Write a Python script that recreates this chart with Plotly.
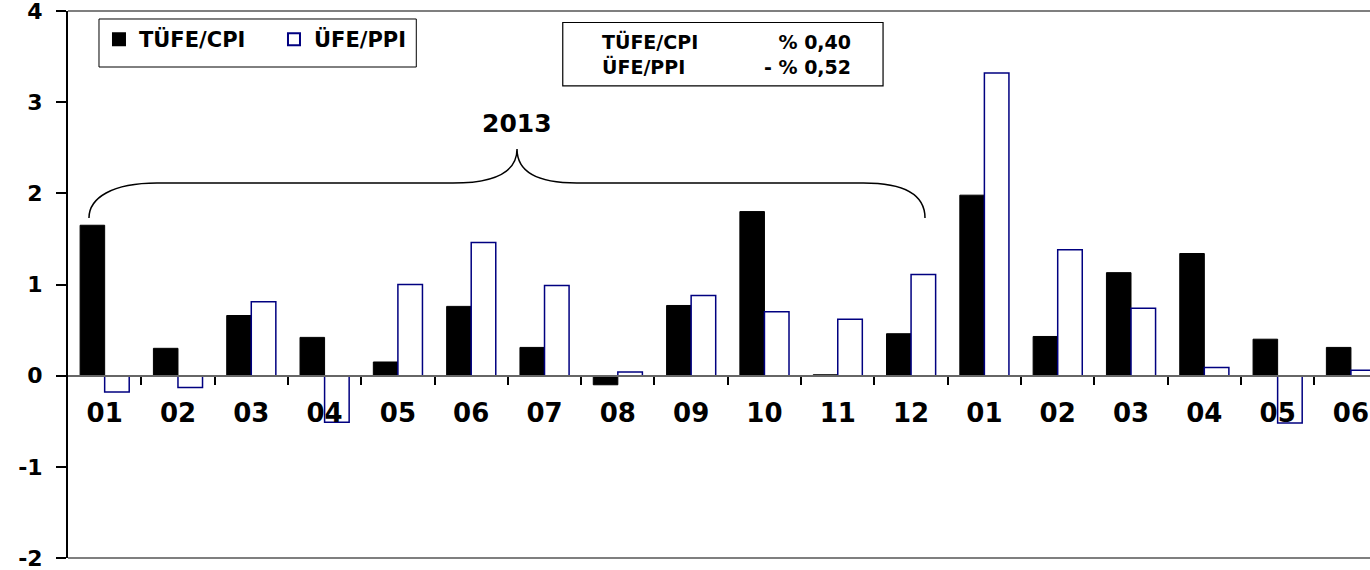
import plotly.graph_objects as go

# monthly % change, 2013-01 .. 2014-06
months = ["01", "02", "03", "04", "05", "06", "07", "08", "09", "10", "11", "12",
          "01", "02", "03", "04", "05", "06"]
cpi = [1.65, 0.30, 0.66, 0.42, 0.15, 0.76, 0.31, -0.10, 0.77, 1.80, 0.01, 0.46,
       1.98, 0.43, 1.13, 1.34, 0.40, 0.31]
ppi = [-0.18, -0.13, 0.81, -0.51, 1.00, 1.46, 0.99, 0.04, 0.88, 0.70, 0.62, 1.11,
       3.32, 1.38, 0.74, 0.09, -0.52, 0.06]
y_ticks = [-2, -1, 0, 1, 2, 3, 4]

FONT = "DejaVu Sans"
pos = list(range(len(months)))

fig = go.Figure()
fig.add_trace(go.Bar(
    x=pos, y=cpi, name="TÜFE/CPI",
    marker=dict(color="black", line=dict(color="black", width=1)),
))
fig.add_trace(go.Bar(
    x=pos, y=ppi, name="ÜFE/PPI",
    marker=dict(color="white", line=dict(color="#000080", width=1.5)),
))

# curly brace over 2013
brace = ("M -0.214,1.729 C -0.214,1.95 0.1,2.113 0.714,2.113 "
         "L 4.75,2.113 C 5.39,2.113 5.625,2.256 5.625,2.486 "
         "C 5.625,2.256 5.857,2.113 6.44,2.113 "
         "L 10.35,2.113 C 10.97,2.113 11.19,1.95 11.19,1.729")
fig.add_shape(type="path", path=brace, xref="x", yref="y",
              line=dict(color="black", width=1.5))

# frame lines top and bottom
for yy in (0, 1):
    fig.add_shape(type="line", xref="paper", yref="paper", x0=0, x1=1, y0=yy, y1=yy,
                  line=dict(color="#555555", width=1.5))

# legend box and summary box
fig.add_shape(type="rect", xref="paper", yref="paper",
              x0=0.0238, x1=0.2675, y0=0.8976, y1=0.9854,
              line=dict(color="black", width=1))
fig.add_shape(type="rect", xref="paper", yref="paper",
              x0=0.380, x1=0.626, y0=0.863, y1=0.979,
              line=dict(color="black", width=1.2))

fig.add_annotation(x=5.625, y=2.765, xref="x", yref="y", text="<b>2013</b>",
                   showarrow=False, font=dict(family=FONT, size=25, color="black"))
fig.add_annotation(x=0.4086, y=0.921, xref="paper", yref="paper",
                   xanchor="left", yanchor="middle", align="left", showarrow=False,
                   text="<b>TÜFE/CPI</b><br><b>ÜFE/PPI</b>",
                   font=dict(family=FONT, size=19, color="black"))
fig.add_annotation(x=0.603, y=0.921, xref="paper", yref="paper",
                   xanchor="right", yanchor="middle", align="right", showarrow=False,
                   text="<b>% 0,40</b><br><b>- % 0,52</b>",
                   font=dict(family=FONT, size=19, color="black"))

fig.update_layout(
    width=1370, height=570,
    margin=dict(l=68, r=0, t=11, b=12),
    paper_bgcolor="white", plot_bgcolor="white",
    barmode="group", bargap=0.33, bargroupgap=0,
    font=dict(family=FONT, color="black"),
    showlegend=True,
    legend=dict(
        orientation="h", x=0.0238, y=0.9854, xanchor="left", yanchor="top",
        bgcolor="rgba(0,0,0,0)", borderwidth=0,
        font=dict(family=FONT, size=21, color="black", weight="bold"),
        entrywidth=130, entrywidthmode="pixels", itemsizing="constant",
    ),
    xaxis=dict(
        range=[-0.5, 17.26], anchor="free", position=1 / 3, automargin=False,
        tickmode="array", tickvals=pos, ticktext=["<b>%s</b>" % m for m in months],
        ticks="", showgrid=False, zeroline=False,
        showline=True, linecolor="#666666", linewidth=2,
        tickfont=dict(family=FONT, size=26, color="black"),
        ticklabelstandoff=14, ticklabeloverflow="allow",
        minor=dict(tickvals=[p + 0.5 for p in pos[:-1]], ticks="outside",
                   ticklen=8, tickwidth=1.5, tickcolor="black", showgrid=False),
    ),
    yaxis=dict(
        range=[-2, 4], tickmode="array", tickvals=y_ticks, automargin=False,
        ticktext=["<b>%d</b>" % v for v in y_ticks],
        ticks="outside", ticklen=10, tickwidth=1.5, tickcolor="black",
        showline=True, linecolor="black", linewidth=2,
        showgrid=False, zeroline=False,
        tickfont=dict(family=FONT, size=22, color="black"),
        ticklabelstandoff=9, ticklabeloverflow="allow",
    ),
)

# drop the default page margin so the figure sits at the window's corner
fig.write_html("out.html", config={"displayModeBar": False},
               post_script="document.body.style.margin='0';")
